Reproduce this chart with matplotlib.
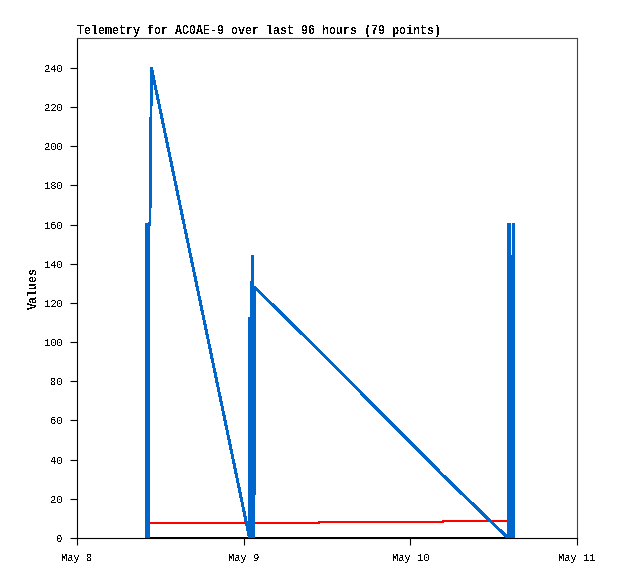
import datetime as dt
import matplotlib
matplotlib.use("Agg")
import matplotlib.pyplot as plt
import matplotlib.dates as mdates

# ---- data (hours after May 8 00:00) ----
blue_hours = [9.94, 9.96, 10.04, 10.06, 10.14, 10.16, 10.24, 10.26, 10.34, 10.36, 10.44,
              10.50, 10.56, 10.72,
              24.84, 24.88, 24.95, 24.97, 25.05, 25.07, 25.15, 25.22, 25.30, 25.34, 25.48, 25.58,
              34.80, 52.70, 62.06, 62.14, 62.16, 62.24, 62.26, 62.44, 62.46, 62.54, 62.56,
              62.76, 62.78, 62.90, 62.92]
blue_values = [0, 160, 160, 0, 0, 160, 160, 0, 0, 160, 160,
               160, 184, 240,
               0, 112, 112, 0, 0, 112, 112, 144, 144, 0, 0, 128,
               96, 32, 0, 0, 160, 160, 0, 0, 144, 144, 0,
               0, 160, 160, 0]

red_hours = [10.30, 34.80, 52.70, 62.06, 62.20]
red_values = [7.8, 8.3, 8.8, 8.0, 8.0]

black_hours = [9.94, 62.90]
black_values = [0, 0]

tick_days = [8, 9, 10, 11]
tick_labels = ["May 8", "May 9", "May 10", "May 11"]
y_ticks = list(range(0, 241, 20))

title = "Telemetry for AC0AE-9 over last 96 hours (79 points)"
ylabel = "Values"

base = dt.datetime(2024, 5, 8)
to_dt = lambda hs: [base + dt.timedelta(hours=h) for h in hs]

plt.rcParams['text.antialiased'] = False
mono = ['Liberation Mono', 'DejaVu Sans Mono']

fig = plt.figure(figsize=(6.18, 5.79), dpi=100)
ax = fig.add_axes([77/618, 41/579, 500/618, 500/579])

ax.plot(to_dt(black_hours), black_values, color='black', lw=1.4, antialiased=False)
ax.plot(to_dt(red_hours), red_values, color='#ff0000', lw=1.4, drawstyle='steps-post',
        antialiased=False)
ax.plot(to_dt(blue_hours), blue_values, color='#0066cc', lw=1.35, antialiased=False,
        solid_joinstyle='miter')

ax.set_xlim(mdates.date2num(dt.datetime(2024, 5, 8)), mdates.date2num(dt.datetime(2024, 5, 11)))
ax.set_ylim(0, 255.3)
ax.set_xticks([mdates.date2num(dt.datetime(2024, 5, d)) for d in tick_days])
ax.set_xticklabels(tick_labels)
ax.set_yticks(y_ticks)
ax.set_yticklabels([str(v) for v in y_ticks])

for lab in ax.get_xticklabels() + ax.get_yticklabels():
    lab.set_family(mono)
    lab.set_fontsize(7.5)
    lab.set_color('black')

ax.tick_params(axis='both', direction='out', length=5, width=0.8, color='black')
ax.tick_params(axis='x', pad=6)
ax.tick_params(axis='y', pad=5)

ax.spines['left'].set_color('black')
ax.spines['bottom'].set_color('black')
ax.spines['top'].set_color('#444444')
ax.spines['right'].set_color('#444444')
for s in ax.spines.values():
    s.set_linewidth(0.8)

ax.set_title(title, loc='left', fontsize=8.4, fontweight='bold', family=mono, pad=3)
ax.set_ylabel(ylabel, fontsize=8.4, fontweight='bold', family=mono, labelpad=3)

fig.savefig("out.png", dpi=100)
